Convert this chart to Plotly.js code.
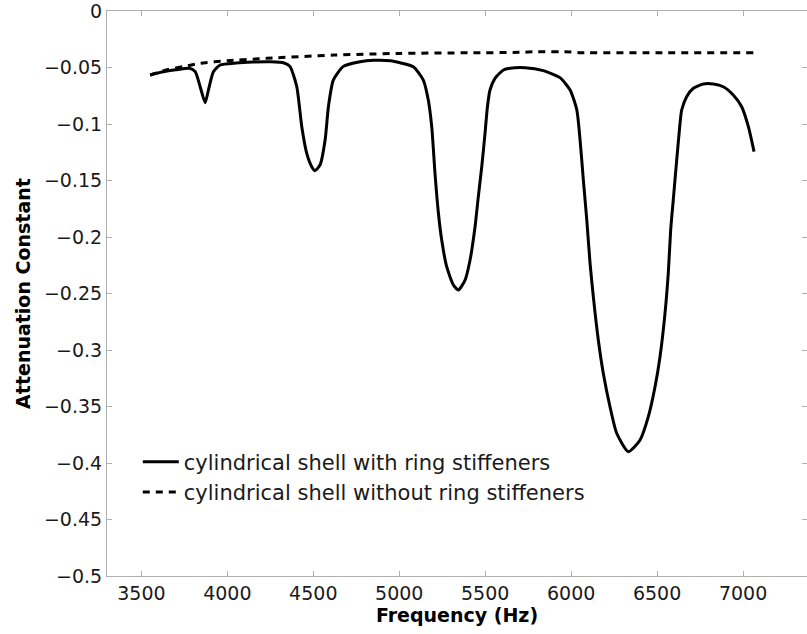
<!DOCTYPE html>
<html>
<head>
<meta charset="utf-8">
<script src="https://cdn.plot.ly/plotly-3.0.1.min.js"></script>
<style>html,body{margin:0;padding:0;background:#fff;}#chart{width:807px;height:634px;}</style>
</head>
<body>
<div id="chart"></div>
<script>
// Solid curve: cylindrical shell with ring stiffeners
const freqWith = [3551,3620,3700,3780,3813,3842,3871,3890,3919,3958,4050,4150,4250,4330,4364,4404,4433,4462,4491,4510,4540,4569,4588,4617,4675,4772,4850,4950,5005,5082,5140,5169,5189,5208,5228,5247,5276,5315,5344,5383,5412,5441,5460,5480,5499,5513,5528,5557,5606,5645,5732,5838,5935,5994,6033,6052,6071,6091,6110,6129,6158,6187,6226,6265,6333,6401,6449,6488,6517,6546,6565,6579,6594,6614,6633,6643,6672,6711,6769,6827,6885,6943,6992,7031,7064];
const attenWith = [-0.0566,-0.0540,-0.0520,-0.0507,-0.0537,-0.0670,-0.0811,-0.0700,-0.0537,-0.0478,-0.0460,-0.0452,-0.0450,-0.0460,-0.0490,-0.0670,-0.1024,-0.1260,-0.1378,-0.1413,-0.1360,-0.1140,-0.0847,-0.0610,-0.0490,-0.0449,-0.0436,-0.0440,-0.0458,-0.0493,-0.0611,-0.0788,-0.1024,-0.1436,-0.1790,-0.2027,-0.2263,-0.2425,-0.2469,-0.2381,-0.2204,-0.1909,-0.1643,-0.1378,-0.1082,-0.0847,-0.0699,-0.0596,-0.0522,-0.0507,-0.0502,-0.0528,-0.0590,-0.0699,-0.0876,-0.1142,-0.1496,-0.1850,-0.2233,-0.2528,-0.2912,-0.3206,-0.3502,-0.3737,-0.3900,-0.3796,-0.3590,-0.3325,-0.3059,-0.2675,-0.2321,-0.1938,-0.1673,-0.1319,-0.1000,-0.0876,-0.0758,-0.0684,-0.0646,-0.0646,-0.0670,-0.0743,-0.0847,-0.1024,-0.1245];

// Dashed curve: cylindrical shell without ring stiffeners
const freqWithout = [3551,3650,3750,3843,4000,4229,4617,5005,5400,5700,5800,6000,6060,6500,7066];
const attenWithout = [-0.0566,-0.0520,-0.0490,-0.0463,-0.0440,-0.0419,-0.0390,-0.0375,-0.0370,-0.0366,-0.0360,-0.0362,-0.0369,-0.0369,-0.0369];

const seriesNames = ["cylindrical shell with ring stiffeners", "cylindrical shell without ring stiffeners"];
const xTickVals = [3500,4000,4500,5000,5500,6000,6500,7000];
const yTickVals = [0,-0.05,-0.1,-0.15,-0.2,-0.25,-0.3,-0.35,-0.4,-0.45,-0.5];

const FONT = "DejaVu Sans, Liberation Sans, Arial, sans-serif";
const traces = [
  {x: freqWith, y: attenWith, name: seriesNames[0], type: "scatter", mode: "lines",
   line: {color: "#000", width: 3, shape: "spline", smoothing: 0.6}},
  {x: freqWithout, y: attenWithout, name: seriesNames[1], type: "scatter", mode: "lines",
   line: {color: "#000", width: 3, dash: "7px,6px", shape: "spline", smoothing: 0.6}}
];
const axisCommon = {
  showgrid: false, zeroline: false, showline: true, linecolor: "#b0b0b0", linewidth: 1,
  mirror: "ticks", ticks: "inside", ticklen: 5, tickcolor: "#b0b0b0", tickwidth: 1,
  ticklabeloverflow: "allow",
  tickfont: {family: FONT, size: 19, color: "#1a1a1a"}
};
const layout = {
  width: 807, height: 634,
  margin: {l: 107, r: 0, t: 11, b: 58},
  paper_bgcolor: "#fff", plot_bgcolor: "#fff",
  showlegend: true,
  legend: {x: 0.044, y: 0.238, xanchor: "left", yanchor: "top", bgcolor: "rgba(0,0,0,0)",
           borderwidth: 0, font: {family: FONT, size: 21, color: "#1a1a1a"}, itemwidth: 36},
  xaxis: Object.assign({}, axisCommon, {
    range: [3300, 7372], tickvals: xTickVals, ticktext: xTickVals.map(String),
    title: {text: "Frequency (Hz)", font: {family: FONT, size: 19, color: "#000", weight: "bold"}, standoff: 4}
  }),
  yaxis: Object.assign({}, axisCommon, {
    range: [-0.5, 0], tickvals: yTickVals, ticktext: yTickVals.map(v => v === 0 ? "0" : "\u2212" + String(Math.abs(v))),
    title: {text: "Attenuation Constant", font: {family: FONT, size: 19, color: "#000", weight: "bold"}, standoff: 8}
  })
};
Plotly.newPlot("chart", traces, layout, {displayModeBar: false, staticPlot: true});
</script>
</body>
</html>
